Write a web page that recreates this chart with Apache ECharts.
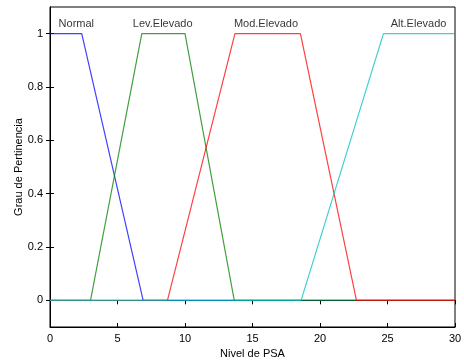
<!DOCTYPE html>
<html>
<head>
<meta charset="utf-8">
<script src="https://cdn.jsdelivr.net/npm/echarts@6/dist/echarts.min.js"></script>
<style>
  html, body { margin: 0; padding: 0; background: #fff; }
  #chart { width: 464px; height: 361px; }
</style>
</head>
<body>
<div id="chart"></div>
<script>
// membership functions (trapezoids)
var mfNames = ['Normal', 'Lev.Elevado', 'Mod.Elevado', 'Alt.Elevado'];
var mfColors = ['#0000ff', '#008000', '#ff0000', '#00bfbf'];
var normalPts = [[0, 1], [2.35, 1], [6.9, 0], [30, 0]];
var levPts = [[0, 0], [3.0, 0], [6.8, 1], [10.0, 1], [13.65, 0], [30, 0]];
var modPts = [[0, 0], [8.7, 0], [13.7, 1], [18.55, 1], [22.7, 0], [30, 0]];
var altPts = [[0, 0], [18.6, 0], [24.7, 1], [30, 1]];
var labelPts = [[1.95, 1.038], [8.35, 1.038], [16.0, 1.038], [27.3, 1.038]];
var xTicks = [0, 5, 10, 15, 20, 25, 30];
var yTicks = [0, 0.2, 0.4, 0.6, 0.8, 1];

var chart = echarts.init(document.getElementById('chart'));
var font = 'Liberation Sans, Arial, sans-serif';
var allPts = [normalPts, levPts, modPts, altPts];

var series = allPts.map(function (pts, i) {
    return {
        name: mfNames[i],
        type: 'line',
        data: pts,
        symbol: 'none',
        animation: false,
        lineStyle: { color: mfColors[i], width: 1.2, opacity: 0.75 },
        z: 2 + i
    };
});
series.push({
    type: 'scatter',
    data: labelPts.map(function (p, i) { return { value: p, name: mfNames[i] }; }),
    symbolSize: 0,
    animation: false,
    label: {
        show: true,
        position: 'inside',
        formatter: function (p) { return p.name; },
        color: '#000',
        fontFamily: font,
        fontSize: 11
    },
    z: 10
});

var tickStyle = { show: true, inside: true, length: 4, lineStyle: { color: '#000' } };

chart.setOption({
    backgroundColor: '#fff',
    grid: {
        left: 50, right: 9, top: 7, bottom: 34,
        outerBoundsMode: 'none',
        containLabel: false,
        show: true, borderColor: '#000', borderWidth: 1
    },
    xAxis: [{
        type: 'value', min: 0, max: 30, interval: 5,
        name: 'Nivel de PSA', nameLocation: 'middle', nameGap: 20,
        nameTextStyle: { fontFamily: font, fontSize: 11, color: '#000' },
        axisLine: { show: true, onZero: false, lineStyle: { color: '#000' } },
        axisTick: tickStyle,
        axisLabel: { fontFamily: font, fontSize: 11, color: '#000', margin: 6 },
        splitLine: { show: false }
    }, {
        type: 'value', min: 0, max: 30, interval: 5, position: 'top',
        axisLine: { show: true, lineStyle: { color: '#000' } },
        axisTick: tickStyle,
        axisLabel: { show: false },
        splitLine: { show: false }
    }],
    yAxis: [{
        type: 'value', min: -0.1, max: 1.1,
        name: 'Grau de Pertinencia', nameLocation: 'middle', nameGap: 26,
        nameMoveOverlap: false,
        nameTextStyle: { fontFamily: font, fontSize: 11, color: '#000' },
        axisLine: { show: true, onZero: false, lineStyle: { color: '#000' } },
        axisTick: { show: true, inside: true, length: 4, lineStyle: { color: '#000' }, customValues: yTicks },
        axisLabel: {
            fontFamily: font, fontSize: 11, color: '#000', margin: 7,
            customValues: yTicks,
            formatter: function (v) { return String(Math.round(v * 10) / 10); }
        },
        splitLine: { show: false }
    }, {
        type: 'value', min: -0.1, max: 1.1, position: 'right',
        axisLine: { show: true, lineStyle: { color: '#000' } },
        axisTick: { show: true, inside: true, length: 4, lineStyle: { color: '#000' }, customValues: yTicks },
        axisLabel: { show: false },
        splitLine: { show: false }
    }],
    series: series
});
</script>
</body>
</html>
